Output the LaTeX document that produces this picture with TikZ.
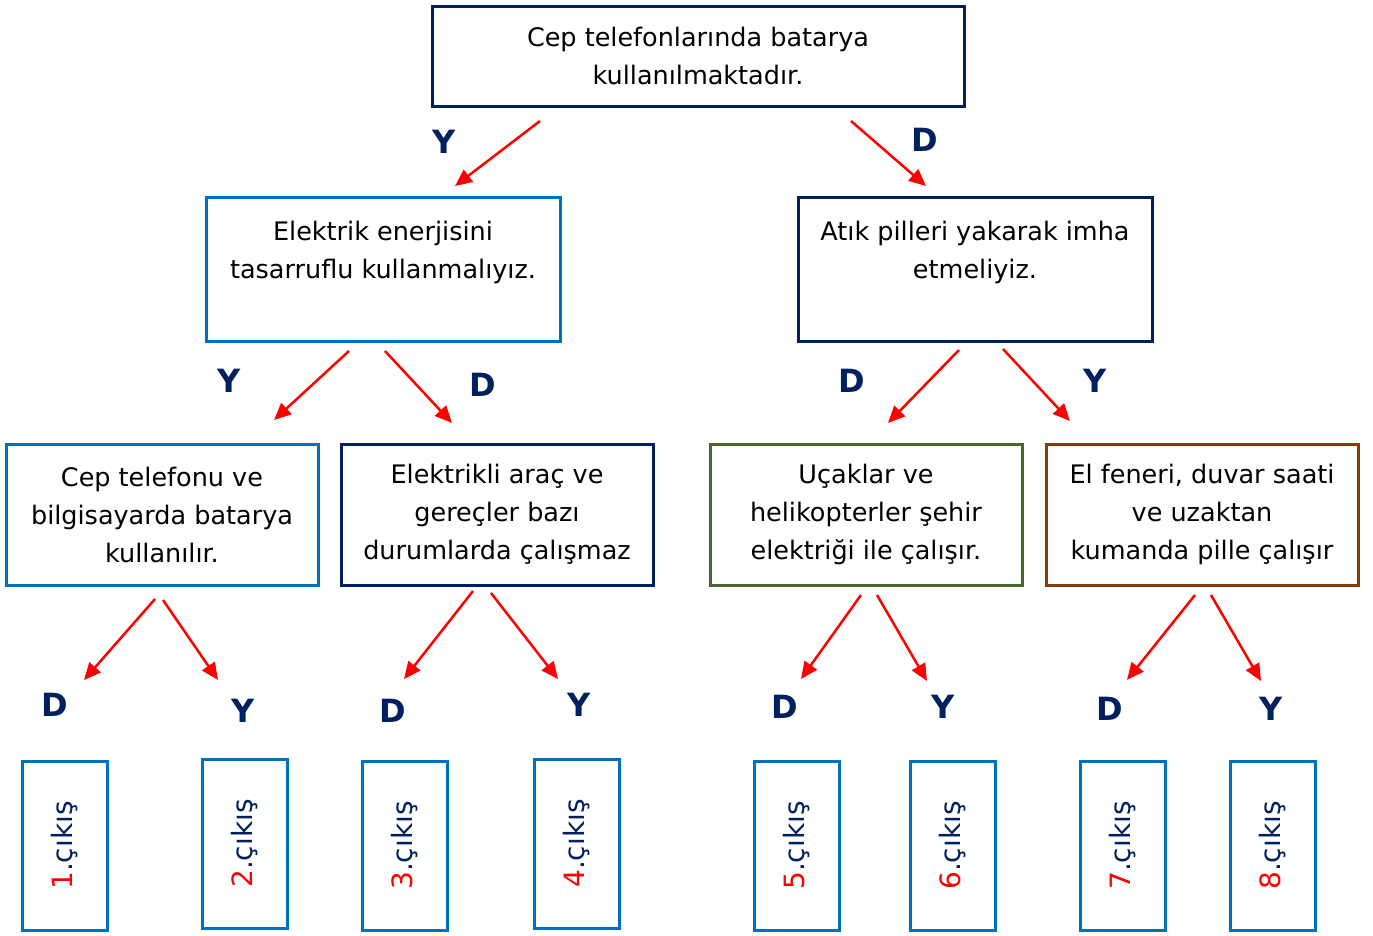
\documentclass[tikz,border=0pt]{standalone}
\usepackage{fontspec}
\setmainfont{DejaVu Sans}
\usetikzlibrary{arrows.meta}
\definecolor{navy}{HTML}{002060}
\definecolor{ablue}{HTML}{0070C0}
\definecolor{agreen}{HTML}{4A6630}
\definecolor{abrown}{HTML}{843C0C}

\begin{document}
\begin{tikzpicture}[x=1pt, y=-1pt,
        box/.style={draw, line width=3pt, align=center, inner sep=0pt,
            font=\fontsize{25.5}{38}\selectfont},
        outbox/.style={draw=ablue, line width=3pt, rotate=90, inner sep=0pt,
            minimum width=169pt, minimum height=85pt, text=navy,
            font=\fontsize{28}{30}\selectfont},
        yd/.style={text=navy, font=\bfseries\fontsize{32}{32}\selectfont},
        arr/.style={draw=red, line width=2.5pt, -{Triangle[length=17pt,width=15pt]}} ]
    \useasboundingbox (0,0) rectangle (1373,935);
    % question boxes
    \node[box, draw=navy, minimum width=532pt, minimum height=100pt] (top) at (698,56)
        {Cep telefonlarında batarya\\kullanılmaktadır.};
    \node[box, draw=ablue, minimum width=354pt, minimum height=144pt] (q1) at (383,269)
        {Elektrik enerjisini\\tasarruflu kullanmalıyız.\\\mbox{}};
    \node[box, draw=navy, minimum width=354pt, minimum height=144pt] (q2) at (975,269)
        {Atık pilleri yakarak imha\\etmeliyiz.\\\mbox{}};
    \node[box, draw=ablue, minimum width=312pt, minimum height=141pt] (q3) at (162,514.5)
        {Cep telefonu ve\\bilgisayarda batarya\\kullanılır.};
    \node[box, draw=navy, minimum width=312pt, minimum height=141pt] (q4) at (497,514.5)
        {Elektrikli araç ve\\gereçler bazı\\durumlarda çalışmaz};
    \node[box, draw=agreen, minimum width=312pt, minimum height=141pt] (q5) at (866,514.5)
        {Uçaklar ve\\helikopterler şehir\\elektriği ile çalışır.};
    \node[box, draw=abrown, minimum width=312pt, minimum height=141pt] (q6) at (1202,514.5)
        {El feneri, duvar saati\\ve uzaktan\\kumanda pille çalışır};
    % exits
    \foreach \n/\x/\y in {1/64.5/845.5, 2/244.5/843.5, 3/404.5/845.5, 4/576.5/843.5,
            5/796.5/845.5, 6/952.5/845.5, 7/1122.5/845.5, 8/1272.5/845.5}
        \node[outbox] (out\n) at (\x,\y) {\textcolor{red}{\n}.çıkış};
    % answers
    \foreach \nm/\x/\y/\t in {a1/444/142/Y, a2/925/140/D, a3/229/381/Y, a4/483/385/D,
            a5/852/381/D, a6/1095/381/Y, a7/55/705/D, a8/243/711/Y, a9/393/711/D,
            a10/579/705/Y, a11/785/707/D, a12/943/707/Y, a13/1110/709/D, a14/1271/709/Y}
        \node[yd] (\nm) at (\x,\y) {\t};
    % arrows
    \foreach \nm/\xa/\ya/\xb/\yb in {r1/540/121/455/186, r2/851/121/926/186,
            r3/349/351/274/420, r4/385/351/452/423, r5/959/350/888/423, r6/1003/349/1070/421,
            r7/155/599/84/680, r8/163/600/218/680, r9/473/591/404/679, r10/491/593/558/679,
            r11/861/595/801/679, r12/877/595/927/681, r13/1195/595/1127/680, r14/1211/595/1261/681} {
        \coordinate (\nm s) at (\xa,\ya);
        \coordinate (\nm e) at (\xb,\yb);
        \draw[arr] (\nm s) -- (\nm e);
    }
\end{tikzpicture}
\end{document}
